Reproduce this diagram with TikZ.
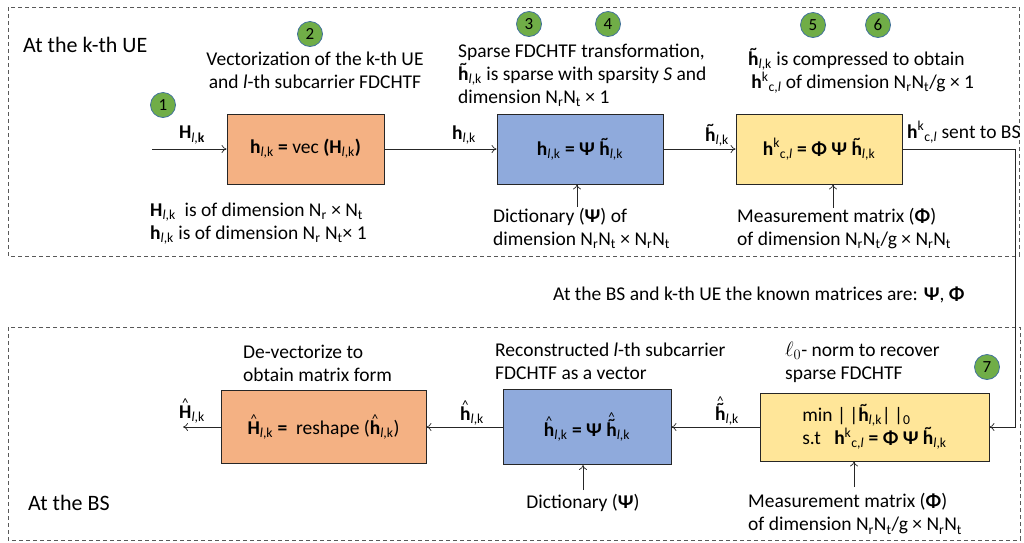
\documentclass[tikz,border=0pt]{standalone}
\usepackage{fontspec}
\setmainfont{Carlito}
\usetikzlibrary{arrows.meta}
\definecolor{ofill}{HTML}{F4B183}
\definecolor{bfill}{HTML}{8FAADC}
\definecolor{yfill}{HTML}{FFE699}
\definecolor{gfill}{HTML}{70AD47}
\definecolor{gdraw}{HTML}{41719C}
\newcommand{\lk}{\textsubscript{\normalfont\textit{l},k}}
\newcommand{\lkb}{\textsubscript{\normalfont\textit{l},\bfseries k}}
\newcommand{\hkcl}{{\bfseries h}\textsuperscript{\normalfont k}\textsubscript{\normalfont c,\textit{l}}}
\newcommand{\tilx}[1]{\leavevmode\setbox0\hbox{#1}\rlap{\hbox to\wd0{\hss\raisebox{0.6em}{\fontsize{14}{14}\selectfont\bfseries\textasciitilde}\hss}}\box0}
\newcommand{\htil}{\tilx{\bfseries h}}
\newcommand{\hatx}[1]{\leavevmode\setbox0\hbox{#1}\rlap{\hbox to\wd0{\hss\raisebox{0.58em}{\fontsize{13}{13}\selectfont\textasciicircum}\hss}}\box0}
\newcommand{\hatxx}[1]{\leavevmode\setbox0\hbox{#1}\rlap{\hbox to\wd0{\hss\raisebox{0.78em}{\fontsize{13}{13}\selectfont\textasciicircum}\hss}}\box0}
\newcommand{\sbs}[1]{\textsubscript{#1}}
\begin{document}
\begin{tikzpicture}[x=1pt,y=-1pt,
  txt/.style={font=\fontsize{19.5}{23}\selectfont, inner sep=0pt, align=left},
  big/.style={font=\fontsize{22}{24}\selectfont, inner sep=0pt},
  box/.style={draw=black!85, line width=0.8pt, inner sep=0pt, font=\fontsize{19.5}{23}\selectfont, align=left},
  circ/.style={circle, draw=gdraw, line width=0.8pt, fill=gfill, minimum size=25pt, inner sep=0pt, font=\fontsize{17}{17}\selectfont},
  arr/.style={-{To[length=5pt,width=8pt]}, line width=0.7pt, black!85},
  region/.style={dashed, dash pattern=on 4pt off 3pt, draw=black!65, line width=0.7pt}]
\useasboundingbox (0,0) rectangle (1024,542);
% regions
\draw[region] (8,7) rectangle (1019,256);
\draw[region] (8,327) rectangle (1020,540);
\node[big, anchor=west] (ue) at (23,45) {At the k-th UE};
\node[big, anchor=west] (bs) at (28,503) {At the BS};
% top boxes
\node[box, fill=ofill, minimum width=157pt, minimum height=70pt] (o1) at (305.5,149) {{\bfseries h}\lk\ {\bfseries =} vec {\bfseries (H}\lk{\bfseries )}};
\node[box, fill=bfill, minimum width=166pt, minimum height=70pt] (b1) at (580,149) {{\bfseries h}\lk\ {\bfseries = Ψ} \htil\lk};
\node[box, fill=yfill, minimum width=166pt, minimum height=70pt] (y1) at (819,149) {\hkcl\ {\bfseries = Φ Ψ} \htil\lk};
% bottom boxes
\node[box, fill=ofill, minimum width=205pt, minimum height=73pt] (o2) at (323.5,427) {\hatx{\bfseries H}\lk\ {\bfseries =}\ \ reshape (\hatx{\bfseries h}\lk)};
\node[box, fill=bfill, minimum width=168pt, minimum height=75pt] (b2) at (587,427) {\hatx{\bfseries h}\lk\ {\bfseries = Ψ} \hatxx{\htil}\lk};
\node[box, fill=yfill, minimum width=229pt, minimum height=68pt] (y2) at (874.5,427) {min |\,|\htil\lk|\,|\sbs{0}\\s.t\ \ \ \hkcl\ {\bfseries = Φ Ψ} \htil\lk};
% circles
\node[circ] (n1) at (163,105) {1};
\node[circ] (n2) at (310,34) {2};
\node[circ] (n3) at (529,24) {3};
\node[circ] (n4) at (608,24) {4};
\node[circ] (n5) at (813,25) {5};
\node[circ] (n6) at (878,25) {6};
\node[circ] (n7) at (987,367) {7};
% top texts
\node[txt, align=center] (t2) at (315,70.5) {Vectorization of the k-th UE\\and \textit{l}-th subcarrier FDCHTF};
\node[txt, anchor=west] (tdim) at (150,223.5) {{\bfseries H}\lk\ \ is of dimension N\sbs{r} × N\sbs{t}\\{\bfseries h}\lk\ is of dimension N\sbs{r} N\sbs{t}× 1};
\node[txt, anchor=west] (t34) at (458,75) {Sparse FDCHTF transformation,\\\htil\lk\ is sparse with sparsity \textit{S} and\\dimension N\sbs{r}N\sbs{t} × 1};
\node[txt, anchor=west] (tdict1) at (493,228.5) {Dictionary (\textbf{Ψ}) of\\dimension N\sbs{r}N\sbs{t} × N\sbs{r}N\sbs{t}};
\node[txt, anchor=west] (t56) at (748,71) {\htil\lk\ is compressed to obtain\\\,\hkcl\ of dimension N\sbs{r}N\sbs{t}/g × 1};
\node[txt, anchor=west] (tmeas1) at (737,228.5) {Measurement matrix (\textbf{Φ})\\of dimension N\sbs{r}N\sbs{t}/g × N\sbs{r}N\sbs{t}};
\node[txt, anchor=west] (tsent) at (907,132) {\hkcl\ sent to BS};
\node[txt, anchor=west] (tknown) at (553,295) {At the BS and k-th UE the known matrices are: \textbf{Ψ}, \textbf{Φ}};
% bottom texts
\node[txt, anchor=west] (tdevec) at (243,363.5) {De-vectorize to\\obtain matrix form};
\node[txt, anchor=west] (trec) at (495,361.5) {Reconstructed \textit{l}-th subcarrier\\FDCHTF as a vector};
\node[txt, anchor=west] (tl0) at (785,362) {$\ell_0$- norm to recover\\sparse FDCHTF};
\node[txt] (tdict2) at (583,503) {Dictionary (\textbf{Ψ})};
\node[txt, anchor=west] (tmeas2) at (748,514) {Measurement matrix (\textbf{Φ})\\of dimension N\sbs{r}N\sbs{t}/g × N\sbs{r}N\sbs{t}};
% connector labels
\node[txt] (l1) at (192,135) {{\bfseries H}\lkb};
\node[txt] (l2) at (464,135) {{\bfseries h}\lk};
\node[txt] (l3) at (717,135) {\htil\lk};
\node[txt] (l4) at (727,411) {\hatxx{\htil}\lk};
\node[txt] (l5) at (472,413) {\hatx{\bfseries h}\lk};
\node[txt] (l6) at (192,411) {\hatx{\bfseries H}\lk};
% coordinates
\coordinate (in) at (152,149);
\coordinate (out) at (183,427);
\coordinate (c1) at (1015,0);
\coordinate (d1) at (577,207);
\coordinate (m1) at (833,208);
\coordinate (d2) at (583,490);
\coordinate (m2) at (854,487);
% connectors
\draw[arr] (in) -- (o1.west);
\draw[arr] (o1.east) -- (b1.west);
\draw[arr] (b1.east) -- (y1.west);
\draw[arr] (y1.east) -- (y1.east -| c1) -- (c1 |- y2.east) -- (y2.east);
\draw[arr] (y2.west) -- (b2.east);
\draw[arr] (b2.west) -- (o2.east);
\draw[arr] (o2.west) -- (out);
\draw[arr] (d1) -- (d1 |- b1.south);
\draw[arr] (m1) -- (m1 |- y1.south);
\draw[arr] (d2) -- (d2 |- b2.south);
\draw[arr] (m2) -- (m2 |- y2.south);
\end{tikzpicture}
\end{document}
